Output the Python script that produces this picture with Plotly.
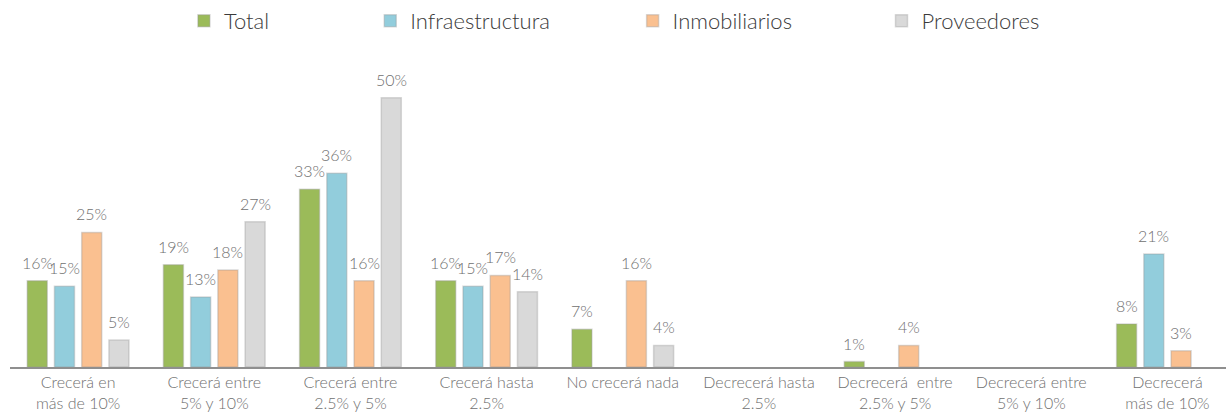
import plotly.graph_objects as go

categories = [
    "Crecerá en<br>más de 10%",
    "Crecerá entre<br>5% y 10%",
    "Crecerá entre<br>2.5% y 5%",
    "Crecerá hasta<br>2.5%",
    "No crecerá nada",
    "Decrecerá hasta<br>2.5%",
    "Decrecerá\u00a0 entre<br>2.5% y 5%",
    "Decrecerá entre<br>5% y 10%",
    "Decrecerá<br>más de 10%",
]

total = [16, 19, 33, 16, 7, None, 1, None, 8]
infraestructura = [15, 13, 36, 15, None, None, None, None, 21]
inmobiliarios = [25, 18, 16, 17, 16, None, 4, None, 3]
proveedores = [5, 27, 50, 14, 4, None, None, None, None]

series = [
    ("Total", total, "#9BBB59"),
    ("Infraestructura", infraestructura, "#92CDDC"),
    ("Inmobiliarios", inmobiliarios, "#FAC090"),
    ("Proveedores", proveedores, "#D9D9D9"),
]

offsets = [-0.3, -0.1, 0.1, 0.3]
bar_width = 0.147
legend_x = [0.150, 0.302, 0.516, 0.719]
legend_names = ["legend", "legend2", "legend3", "legend4"]

FONT = "Lato, 'Open Sans', sans-serif"
LABEL_COLOR = "#707070"

fig = go.Figure()
annotations = []
for k, (name, values, color) in enumerate(series):
    xs = [i + offsets[k] for i in range(len(categories))]
    fig.add_trace(go.Bar(
        name=name,
        x=xs,
        y=values,
        width=bar_width,
        marker=dict(color=color, line=dict(color="rgba(150,150,150,0.35)", width=1.5)),
        legend=legend_names[k],
        hoverinfo="skip",
    ))
    for x, v in zip(xs, values):
        if v is None:
            continue
        annotations.append(dict(
            x=x, y=v, xref="x", yref="y",
            text=f"{v}%", showarrow=False,
            yanchor="bottom", yshift=7,
            font=dict(family=FONT, size=16, color=LABEL_COLOR, weight=300),
        ))

layout_legends = {}
for k, lname in enumerate(legend_names):
    layout_legends[lname] = dict(
        x=legend_x[k], y=1.0, xref="container", yref="container",
        xanchor="left", yanchor="top",
        orientation="h",
        font=dict(family=FONT, size=22, color="#3a3a3a", weight=300),
        bgcolor="rgba(0,0,0,0)",
        itemwidth=30,
    )

fig.update_layout(
    width=1226,
    height=416,
    margin=dict(l=10, r=0, t=44, b=49),
    paper_bgcolor="white",
    plot_bgcolor="white",
    barmode="overlay",
    showlegend=True,
    annotations=annotations,
    xaxis=dict(
        range=[-0.5, 8.43],
        tickvals=list(range(len(categories))),
        ticktext=categories,
        showgrid=False,
        zeroline=False,
        showline=True,
        linecolor="#8f8f8f",
        linewidth=2,
        ticks="",
        tickfont=dict(family=FONT, size=16, color=LABEL_COLOR, weight=300),
    ),
    yaxis=dict(
        range=[0, 60],
        showgrid=False,
        zeroline=False,
        showline=False,
        showticklabels=False,
    ),
    **layout_legends,
)

fig.write_html("out.html")
